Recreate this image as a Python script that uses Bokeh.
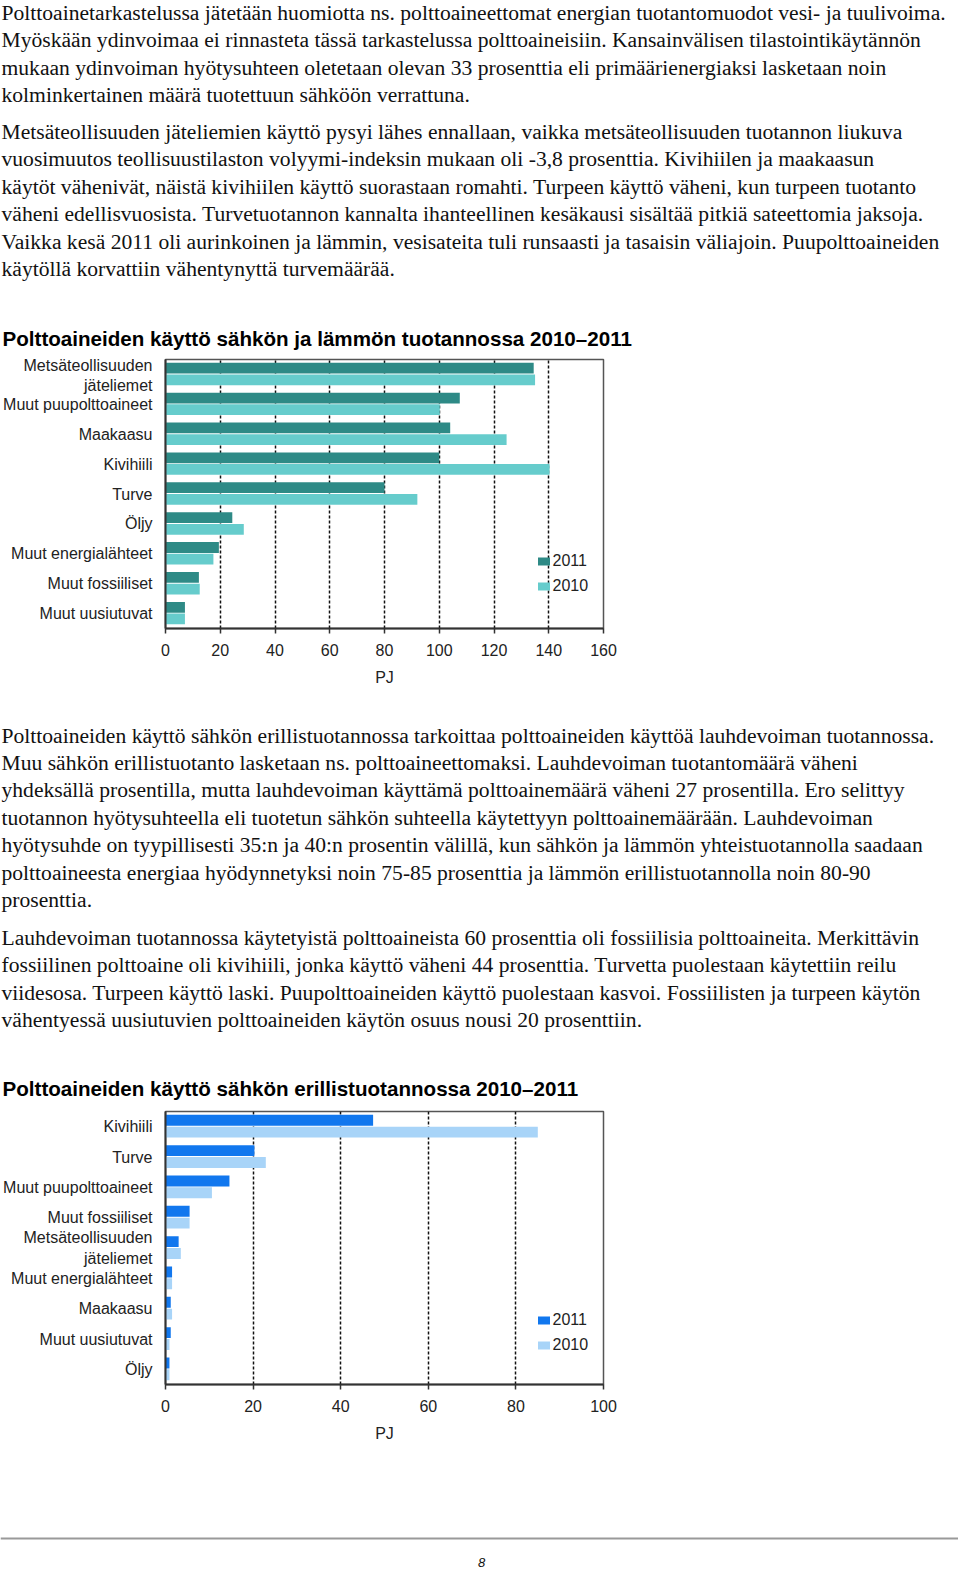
from bokeh.plotting import figure
from bokeh.layouts import column
from bokeh.models import ColumnDataSource, Range1d, FactorRange, FixedTicker
from bokeh.transform import dodge
from bokeh.core.properties import value
from bokeh.embed import file_html
from bokeh.resources import INLINE

# ---------------- data ----------------
PARA_1 = [
    "Polttoainetarkastelussa jätetään huomiotta ns. polttoaineettomat energian tuotantomuodot vesi- ja tuulivoima.",
    "Myöskään ydinvoimaa ei rinnasteta tässä tarkastelussa polttoaineisiin. Kansainvälisen tilastointikäytännön",
    "mukaan ydinvoiman hyötysuhteen oletetaan olevan 33 prosenttia eli primäärienergiaksi lasketaan noin",
    "kolminkertainen määrä tuotettuun sähköön verrattuna.",
]
PARA_2 = [
    "Metsäteollisuuden jäteliemien käyttö pysyi lähes ennallaan, vaikka metsäteollisuuden tuotannon liukuva",
    "vuosimuutos teollisuustilaston volyymi-indeksin mukaan oli -3,8 prosenttia. Kivihiilen ja maakaasun",
    "käytöt vähenivät, näistä kivihiilen käyttö suorastaan romahti. Turpeen käyttö väheni, kun turpeen tuotanto",
    "väheni edellisvuosista. Turvetuotannon kannalta ihanteellinen kesäkausi sisältää pitkiä sateettomia jaksoja.",
    "Vaikka kesä 2011 oli aurinkoinen ja lämmin, vesisateita tuli runsaasti ja tasaisin väliajoin. Puupolttoaineiden",
    "käytöllä korvattiin vähentynyttä turvemäärää.",
]
TITLE_1 = "Polttoaineiden käyttö sähkön ja lämmön tuotannossa 2010–2011"
PARA_3 = [
    "Polttoaineiden käyttö sähkön erillistuotannossa tarkoittaa polttoaineiden käyttöä lauhdevoiman tuotannossa.",
    "Muu sähkön erillistuotanto lasketaan ns. polttoaineettomaksi. Lauhdevoiman tuotantomäärä väheni",
    "yhdeksällä prosentilla, mutta lauhdevoiman käyttämä polttoainemäärä väheni 27 prosentilla. Ero selittyy",
    "tuotannon hyötysuhteella eli tuotetun sähkön suhteella käytettyyn polttoainemäärään. Lauhdevoiman",
    "hyötysuhde on tyypillisesti 35:n ja 40:n prosentin välillä, kun sähkön ja lämmön yhteistuotannolla saadaan",
    "polttoaineesta energiaa hyödynnetyksi noin 75-85 prosenttia ja lämmön erillistuotannolla noin 80-90",
    "prosenttia.",
]
PARA_4 = [
    "Lauhdevoiman tuotannossa käytetyistä polttoaineista 60 prosenttia oli fossiilisia polttoaineita. Merkittävin",
    "fossiilinen polttoaine oli kivihiili, jonka käyttö väheni 44 prosenttia. Turvetta puolestaan käytettiin reilu",
    "viidesosa. Turpeen käyttö laski. Puupolttoaineiden käyttö puolestaan kasvoi. Fossiilisten ja turpeen käytön",
    "vähentyessä uusiutuvien polttoaineiden käytön osuus nousi 20 prosenttiin.",
]
TITLE_2 = "Polttoaineiden käyttö sähkön erillistuotannossa 2010–2011"
PAGE_NUMBER = "8"

SERIES = ["2011", "2010"]
AXIS_LABEL = "PJ"

CATS_1 = ["Metsäteollisuuden\njäteliemet", "Muut puupolttoaineet", "Maakaasu", "Kivihiili",
          "Turve", "Öljy", "Muut energialähteet", "Muut fossiiliset", "Muut uusiutuvat"]
V1_2011 = [134.5, 107.5, 104.0, 100.0, 80.0, 24.4, 19.5, 12.2, 7.1]
V1_2010 = [135.0, 100.2, 124.6, 140.3, 92.0, 28.6, 17.5, 12.5, 7.1]
TICKS_1 = [0, 20, 40, 60, 80, 100, 120, 140, 160]

CATS_2 = ["Kivihiili", "Turve", "Muut puupolttoaineet", "Muut fossiiliset",
          "Metsäteollisuuden\njäteliemet", "Muut energialähteet", "Maakaasu", "Muut uusiutuvat", "Öljy"]
V2_2011 = [47.4, 20.3, 14.6, 5.5, 3.0, 1.5, 1.2, 1.2, 0.9]
V2_2010 = [85.0, 22.9, 10.6, 5.5, 3.5, 1.5, 1.5, 0.9, 0.9]
TICKS_2 = [0, 20, 40, 60, 80, 100]

# ---------------- styling ----------------
W = 958
SERIF = "Liberation Serif"
SANS = "Liberation Sans"
BODY_SIZE = "21.6px"
TITLE_SIZE = "20.6px"
LINE_PITCH = 27.4
TEXT_SHIFT = -5.5


def blank_fig(height):
    p = figure(width=W, height=height, x_range=Range1d(0, W), y_range=Range1d(height, 0),
               output_backend="svg", toolbar_location=None, min_border=0,
               x_axis_type=None, y_axis_type=None, frame_align=False)
    p.title = None
    p.outline_line_color = None
    p.background_fill_color = "white"
    p.border_fill_color = "white"
    return p


def add_para(p, lines, first_baseline):
    ys = [first_baseline + TEXT_SHIFT + i * LINE_PITCH for i in range(len(lines))]
    src = ColumnDataSource(dict(x=[1] * len(lines), y=ys, t=lines))
    p.text(x="x", y="y", text="t", source=src, text_font=value(SERIF),
           text_font_size=BODY_SIZE, text_baseline="alphabetic", text_align="left",
           text_color="#111111")


def add_title(p, title, baseline):
    p.text(x=[2], y=[baseline + TEXT_SHIFT], text=[title], text_font=value(SANS),
           text_font_size=TITLE_SIZE, text_font_style="bold", text_baseline="alphabetic",
           text_align="left", text_color="#000000")


def bar_chart(cats, v11, v10, ticks, c11, c10, top, frame_h, bottom, legend_y):
    src = ColumnDataSource(dict(cat=cats, v11=v11, v10=v10))
    left_border = 165
    frame_w = 438
    p = figure(width=W, height=top + frame_h + bottom,
               y_range=FactorRange(factors=list(reversed(cats))),
               x_range=Range1d(ticks[0], ticks[-1]),
               output_backend="svg", toolbar_location=None, frame_align=False,
               min_border_left=left_border, min_border_right=W - left_border - frame_w,
               min_border_top=top, min_border_bottom=bottom)
    p.title = None
    p.background_fill_color = "white"
    p.border_fill_color = "white"
    p.outline_line_color = "#555555"
    p.outline_line_width = 1.5

    p.hbar(y=dodge("cat", 0.21, range=p.y_range), left=0, right="v11", height=0.36,
           source=src, fill_color=c11, line_color=None, legend_label=SERIES[0])
    p.hbar(y=dodge("cat", -0.18, range=p.y_range), left=0, right="v10", height=0.36,
           source=src, fill_color=c10, line_color=None, legend_label=SERIES[1])

    p.ygrid.visible = False
    p.xgrid.ticker = FixedTicker(ticks=ticks[1:-1])
    p.xgrid.grid_line_color = "#111111"
    p.xgrid.grid_line_dash = "3 2"
    p.xgrid.grid_line_width = 1.5

    xa = p.xaxis[0]
    xa.ticker = FixedTicker(ticks=ticks)
    xa.axis_line_width = 2
    xa.axis_line_color = "#333333"
    xa.major_tick_line_color = "#333333"
    xa.major_tick_line_width = 1.5
    xa.major_tick_out = 5
    xa.major_tick_in = 0
    xa.minor_tick_line_color = None
    xa.major_label_text_font = SANS
    xa.major_label_text_font_size = "16px"
    xa.major_label_text_color = "#222222"
    xa.major_label_standoff = 10
    xa.axis_label = AXIS_LABEL
    xa.axis_label_text_font = SANS
    xa.axis_label_text_font_size = "16px"
    xa.axis_label_text_font_style = "normal"
    xa.axis_label_text_color = "#222222"
    xa.axis_label_standoff = 10

    ya = p.yaxis[0]
    ya.axis_line_width = 2
    ya.axis_line_color = "#333333"
    ya.major_tick_line_color = None
    ya.minor_tick_line_color = None
    ya.major_label_text_font = SANS
    ya.major_label_text_font_size = "16px"
    ya.major_label_text_color = "#222222"
    ya.major_label_standoff = 7

    lg = p.legend[0]
    lg.location = (370.5, legend_y)
    lg.border_line_color = None
    lg.background_fill_alpha = 0
    lg.padding = 0
    lg.margin = 0
    lg.spacing = 5
    lg.label_height = 20
    lg.glyph_height = 10
    lg.glyph_width = 15
    lg.label_standoff = 2
    lg.label_text_font = SANS
    lg.label_text_font_size = "16px"
    lg.label_text_color = "#222222"
    return p


# segment A: page y 0..356
fa = blank_fig(356)
add_para(fa, PARA_1, 17.8)
add_para(fa, PARA_2, 137.0)
add_title(fa, TITLE_1, 343.5)

# segment B: chart 1, page y 356..700
fb = bar_chart(CATS_1, V1_2011, V1_2010, TICKS_1, "#2E8A86", "#66CCCC",
               top=3, frame_h=269, bottom=72, legend_y=32)

# segment C: page y 700..1106
fc = blank_fig(406)
add_para(fc, PARA_3, 740.6 - 700)
add_para(fc, PARA_4, 943.0 - 700)
add_title(fc, TITLE_2, 1093.5 - 700)

# segment D: chart 2, page y 1106..1460
fd = bar_chart(CATS_2, V2_2011, V2_2010, TICKS_2, "#1177EE", "#A8D4F8",
               top=5, frame_h=273, bottom=76, legend_y=29)

# segment E: footer, page y 1460..1570
fe = blank_fig(110)
fe.line(x=[0, W], y=[78, 78], line_color="#999999", line_width=2)
fe.text(x=[481], y=[102], text=[PAGE_NUMBER], text_font=value(SANS), text_font_size="13px",
        text_font_style="italic", text_baseline="middle", text_align="center", text_color="#111111")

layout = column(fa, fb, fc, fd, fe, spacing=0)

with open("out.html", "w", encoding="utf-8") as f:
    f.write(file_html(layout, INLINE))
